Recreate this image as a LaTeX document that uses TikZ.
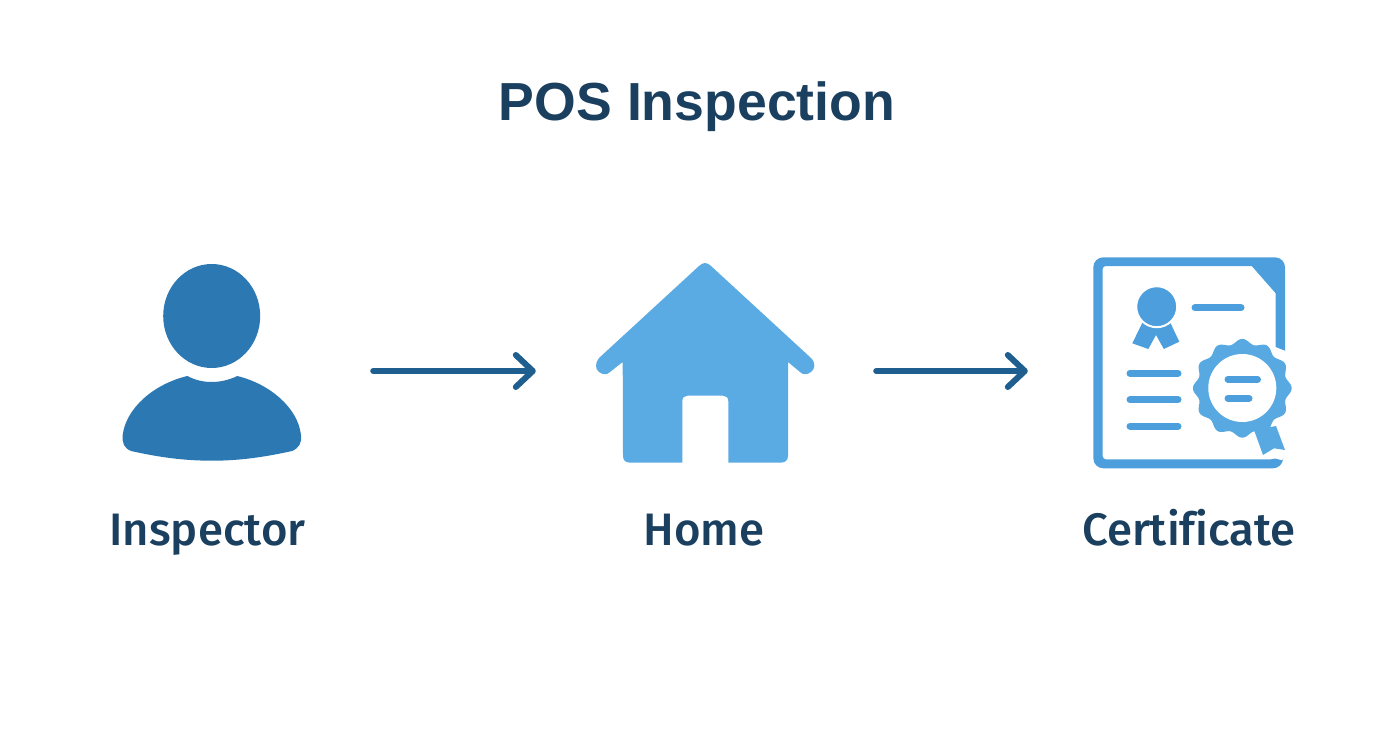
\documentclass[tikz,border=0pt]{standalone}
\usepackage{fontspec}
\usetikzlibrary{arrows.meta}
\newfontfamily\titlefont{Liberation Sans}
\newfontfamily\labelfont{Fira Sans Medium}[Ligatures=NoCommon]
\definecolor{inkblue}{HTML}{1B3F5E}
\definecolor{arrowblue}{HTML}{1F5F90}
\definecolor{personblue}{HTML}{2C78B2}
\definecolor{homeblue}{HTML}{5AAAE3}
\definecolor{certblue}{HTML}{4C9FDC}
\tikzset{
    flowarrow/.style={draw=arrowblue,line width=6pt,line cap=round,shorten <=3pt,-{Straight Barb[length=17pt,width=32pt,round]}},
    icon/.style={inner sep=0pt,minimum height=200pt},
    caption/.style={text=inkblue,anchor=base,font=\labelfont\fontsize{45.5}{50}\selectfont},
    certline/.style={draw=certblue,line width=7pt,line cap=round}
}
\begin{document}
\begin{tikzpicture}[x=1pt,y=-1pt]
        \useasboundingbox (0,0) rectangle (1392,752);

        \node[text=inkblue,anchor=base,font=\titlefont\bfseries\fontsize{53.6}{60}\selectfont] (title) at (697,120) {POS Inspection};

        \node[icon,minimum width=316pt] (inspector) at (212,371) {};
        \node[icon,minimum width=337pt] (home) at (704.5,371) {};
        \node[icon,minimum width=322pt] (certificate) at (1189,371) {};

        \draw[flowarrow] (inspector) -- (home);
        \draw[flowarrow] (home) -- (certificate);

        \fill[personblue] (211.7,316) ellipse [x radius=48.5,y radius=52];
        \fill[personblue] (187.3,376) .. controls (195,380) and (203,382) .. (211.7,382)
            .. controls (220,382) and (229,380) .. (237.3,376)
            .. controls (270,384) and (298,408) .. (301,435)
            .. controls (302,443) and (299,448) .. (292,451)
            .. controls (265,457) and (240,460.7) .. (211.7,460.7)
            .. controls (183,460.7) and (158,457) .. (131,451)
            .. controls (124,448) and (122,443) .. (122.7,435)
            .. controls (126,408) and (154,384) .. (187.3,376) -- cycle;

        \fill[homeblue,line join=round] (705,263) .. controls (707,263) and (709,264) .. (711,266) -- (811,358)
            .. controls (816,363) and (815,369) .. (811,372) .. controls (807,375) and (803,375) .. (800,372)
            -- (788,362) -- (788,456) .. controls (788,460) and (785,462.5) .. (782,462.5) -- (728.3,462.5)
            -- (728.3,401) .. controls (728.3,397.5) and (726,395.7) .. (723,395.7) -- (687.5,395.7)
            .. controls (684.5,395.7) and (682.3,397.5) .. (682.3,401) -- (682.3,462.5) -- (629,462.5)
            .. controls (625.5,462.5) and (623,460) .. (623,456) -- (622.7,362) -- (610,372)
            .. controls (607,375) and (603,375) .. (599,372) .. controls (595,369) and (595,363) .. (599,358)
            -- (699,266) .. controls (701,264) and (703,263) .. (705,263) -- cycle;

        \fill[certblue,even odd rule] (1285,350.7) [rounded corners=10pt] -- (1285,257.3) -- (1093.3,257.3) -- (1093.3,468.3) -- (1283,468.3) [sharp corners] -- (1283,460.5)
            -- (1275,458.5) -- (1271,459.3) [rounded corners=3pt] -- (1102.7,459.3) -- (1102.7,266) [sharp corners] -- (1251.7,266)
            -- (1275.7,293.3) -- (1275.7,347) -- cycle;

        \fill[certblue] (1142.7,322) -- (1132.3,343.3) -- (1148.3,349) -- (1156,335) -- (1163.8,349) -- (1179.3,341.7) -- (1170,322) -- cycle;
        \fill[certblue,draw=white,line width=2pt] (1156.7,306.7) circle (20.5);
        \draw[certline] (1195,307.7) -- (1241,307.7);
        \foreach \y in {373.3,399.7,426}{
            \draw[certline] (1130,\y) -- (1178,\y);
        }

        \fill[homeblue!90!certblue] (1254,430) -- (1263,455) -- (1274,448.3) -- (1285,450) -- (1276,426) -- cycle;
        \fill[homeblue!90!certblue] plot[domain=0:360,samples=145,smooth] ({1242.3+(47+2.4*cos(12*\x))*cos(\x)},{388.3+(47+2.4*cos(12*\x))*sin(\x)}) -- cycle;
        \fill[white] (1242.3,388) circle (34);
        \draw[certline] (1228,379.3) -- (1257.5,379.3);
        \draw[certline] (1228,398.3) -- (1249,398.3);

        \node[caption] (inspectorlabel) at (207.5,545) {Inspector};
        \node[caption] (homelabel) at (704,545) {Home};
        \node[caption] (certificatelabel) at (1189,545) {Certificate};
    \end{tikzpicture}
\end{document}
